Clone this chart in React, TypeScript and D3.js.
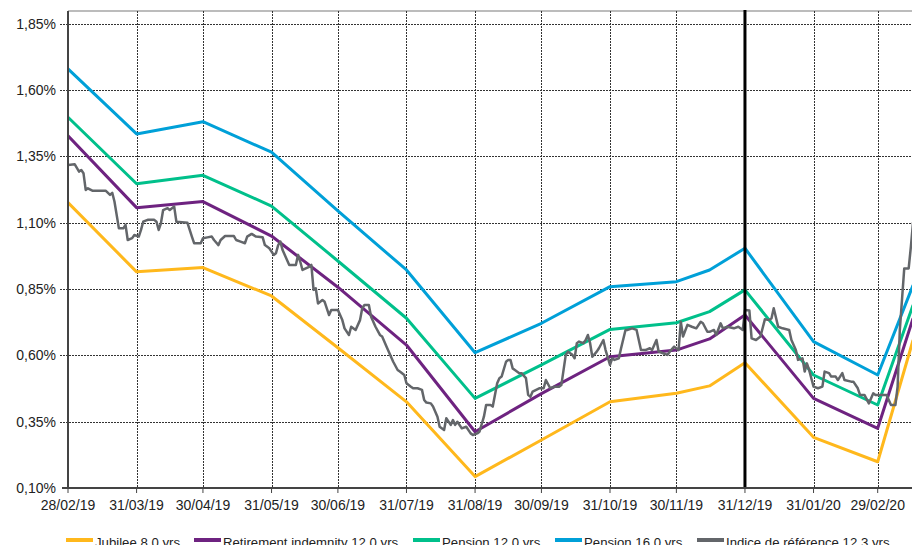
import * as d3 from 'd3';

// month-end curve points (dd/mm/yy)
const curveDates = ['28/02/19', '31/03/19', '30/04/19', '31/05/19', '30/06/19', '31/07/19', '31/08/19', '30/09/19', '31/10/19', '30/11/19', '15/12/19', '31/12/19', '31/01/20', '29/02/20', '16/03/20'];

const jubilee8 = [1.176, 0.915, 0.931, 0.824, 0.629, 0.425, 0.143, 0.281, 0.425, 0.457, 0.485, 0.572, 0.291, 0.199, 0.658];
const retirement12 = [1.428, 1.157, 1.180, 1.050, 0.857, 0.639, 0.312, 0.456, 0.595, 0.620, 0.662, 0.752, 0.438, 0.325, 0.740];
const pension12 = [1.498, 1.247, 1.279, 1.163, 0.956, 0.740, 0.438, 0.564, 0.698, 0.723, 0.765, 0.847, 0.526, 0.413, 0.790];
const pension16 = [1.680, 1.435, 1.481, 1.366, 1.145, 0.922, 0.610, 0.721, 0.859, 0.878, 0.922, 1.004, 0.652, 0.526, 0.865];

// reference index: days after 28/02/19 and value (%)
const refDays = [0, 3, 5, 6, 7, 8, 9, 11, 17, 19, 20, 21, 23, 25, 26, 27, 29, 30, 32, 33, 34, 36, 39, 40, 41, 42, 43, 45, 46, 48, 49, 54, 56, 57, 60, 61, 63, 65, 66, 68, 69, 71, 75, 76, 78, 80, 81, 83, 85, 88, 89, 91, 93, 94, 95, 96, 97, 99, 100, 103, 104, 105, 106, 109, 110, 111, 112, 113, 115, 116, 118, 119, 122, 124, 125, 127, 128, 130, 132, 133, 134, 136, 137, 139, 141, 142, 144, 146, 147, 149, 150, 152, 153, 155, 156, 158, 160, 161, 162, 164, 165, 167, 168, 170, 171, 173, 174, 175, 176, 178, 180, 182, 183, 185, 186, 188, 189, 191, 192, 194, 195, 196, 198, 199, 200, 201, 202, 204, 205, 207, 208, 209, 210, 213, 215, 216, 218, 220, 222, 223, 225, 226, 228, 229, 230, 231, 233, 234, 235, 236, 237, 239, 240, 242, 243, 245, 246, 247, 249, 250, 252, 253, 255, 257, 259, 261, 263, 264, 266, 267, 269, 271, 272, 274, 276, 277, 278, 280, 282, 284, 286, 287, 289, 290, 292, 293, 295, 296, 298, 301, 303, 305, 306, 308, 309, 311, 313, 315, 317, 318, 319, 321, 323, 326, 327, 329, 330, 332, 333, 334, 335, 337, 339, 341, 342, 344, 345, 347, 348, 350, 351, 354, 355, 357, 358, 360, 362, 364, 365, 370, 372, 374, 375, 376, 378, 380, 381, 382];
const refValues = [1.318, 1.321, 1.293, 1.299, 1.287, 1.224, 1.230, 1.221, 1.221, 1.205, 1.213, 1.180, 1.079, 1.079, 1.092, 1.035, 1.042, 1.054, 1.048, 1.073, 1.104, 1.111, 1.111, 1.104, 1.073, 1.098, 1.148, 1.155, 1.148, 1.161, 1.104, 1.100, 1.048, 1.023, 1.023, 1.042, 1.045, 1.048, 1.035, 1.016, 1.035, 1.050, 1.050, 1.035, 1.029, 1.023, 1.048, 1.058, 1.048, 1.045, 1.016, 1.004, 0.979, 0.985, 1.016, 1.029, 0.997, 0.960, 0.941, 0.941, 0.979, 0.953, 0.922, 0.934, 0.941, 0.847, 0.853, 0.796, 0.809, 0.802, 0.752, 0.771, 0.771, 0.733, 0.702, 0.677, 0.708, 0.696, 0.733, 0.778, 0.790, 0.790, 0.746, 0.708, 0.677, 0.671, 0.633, 0.595, 0.576, 0.545, 0.539, 0.526, 0.495, 0.482, 0.476, 0.476, 0.470, 0.432, 0.422, 0.419, 0.407, 0.369, 0.331, 0.319, 0.363, 0.338, 0.356, 0.338, 0.350, 0.325, 0.331, 0.306, 0.300, 0.306, 0.312, 0.369, 0.413, 0.413, 0.407, 0.495, 0.514, 0.520, 0.576, 0.583, 0.583, 0.551, 0.545, 0.533, 0.533, 0.514, 0.451, 0.444, 0.463, 0.476, 0.476, 0.507, 0.476, 0.482, 0.482, 0.488, 0.602, 0.614, 0.602, 0.589, 0.646, 0.652, 0.646, 0.658, 0.677, 0.646, 0.595, 0.614, 0.627, 0.658, 0.620, 0.564, 0.589, 0.583, 0.589, 0.627, 0.696, 0.696, 0.702, 0.696, 0.620, 0.620, 0.627, 0.620, 0.658, 0.614, 0.608, 0.602, 0.614, 0.633, 0.620, 0.727, 0.671, 0.715, 0.708, 0.702, 0.727, 0.721, 0.689, 0.689, 0.696, 0.677, 0.721, 0.702, 0.708, 0.702, 0.708, 0.696, 0.771, 0.769, 0.664, 0.658, 0.671, 0.736, 0.733, 0.740, 0.778, 0.708, 0.702, 0.696, 0.658, 0.620, 0.583, 0.589, 0.539, 0.570, 0.545, 0.482, 0.476, 0.482, 0.539, 0.533, 0.520, 0.520, 0.507, 0.533, 0.507, 0.501, 0.501, 0.476, 0.451, 0.451, 0.419, 0.457, 0.451, 0.451, 0.413, 0.413, 0.482, 0.696, 0.928, 0.928, 1.010, 1.103];

const xTickLabels = ['28/02/19', '31/03/19', '30/04/19', '31/05/19', '30/06/19', '31/07/19', '31/08/19', '30/09/19', '31/10/19', '30/11/19', '31/12/19', '31/01/20', '29/02/20'];
const yTicks = [0.10, 0.35, 0.60, 0.85, 1.10, 1.35, 1.60, 1.85];
const yearEnd = '31/12/19';

const seriesNames = ['Jubilee 8.0 yrs', 'Retirement indemnity 12.0 yrs', 'Pension 12.0 yrs', 'Pension 16.0 yrs', 'Indice de référence 12.3 yrs'];
const seriesColors = ['#FFB81C', '#6E2380', '#00C08B', '#00A0D8', '#63666A'];

const W = 912;
const H = 545;
const left = 68;
const bottom = 488;
const top = 10.6;
const font = '"Liberation Sans", Arial, sans-serif';

export default function App() {
  const parse = d3.utcParse('%d/%m/%y');
  const start = parse('28/02/19') as Date;
  const x = d3.scaleUtc()
    .domain([start, d3.utcDay.offset(start, 382)])
    .range([left, left + 382 * 2.2123]);
  const y = d3.scaleLinear().domain([0.10, 1.90]).range([bottom, top]);

  const curves = [jubilee8, retirement12, pension12, pension16].map(vals =>
    vals.map((v, i) => ({ date: parse(curveDates[i]) as Date, v }))
  );
  const ref = refDays.map((d, i) => ({ date: d3.utcDay.offset(start, d), v: refValues[i] }));
  const line = d3.line<{ date: Date; v: number }>().x(d => x(d.date)).y(d => y(d.v));

  const xTicks = xTickLabels.map(l => ({ label: l, date: parse(l) as Date }));
  const legendX = [66, 194, 413, 555, 697];

  return (
    <div>
      <style>{'body{margin:0}'}</style>
      <svg width={W} height={H} style={{ display: 'block', background: '#fff' }} fontFamily={font}>
        <defs>
          <clipPath id="plot">
            <rect x={left} y={top - 2} width={W - left} height={bottom - top + 4} />
          </clipPath>
        </defs>
        {/* top border */}
        <line x1={left} x2={W} y1={11} y2={11} stroke="#a6a6a6" strokeWidth={1.5} />
        {/* horizontal grid */}
        {yTicks.slice(1).map(t => (
          <line key={t} x1={left - 8} x2={W} y1={Math.round(y(t)) + 0.5} y2={Math.round(y(t)) + 0.5}
            stroke="#333" strokeWidth={1} strokeDasharray="2,1" />
        ))}
        {/* vertical grid */}
        {xTicks.slice(1).map(t => (
          <line key={t.label} x1={Math.round(x(t.date)) + 0.5} x2={Math.round(x(t.date)) + 0.5} y1={11} y2={bottom}
            stroke="#333" strokeWidth={1} strokeDasharray="2,1" />
        ))}
        {/* y labels */}
        {yTicks.map(t => (
          <text key={t} x={56} y={y(t) + 5} textAnchor="end" fontSize={14} fill="#222">
            {t.toFixed(2).replace('.', ',') + '%'}
          </text>
        ))}
        {/* x labels and ticks */}
        {xTicks.map(t => (
          <g key={t.label}>
            <line x1={x(t.date)} x2={x(t.date)} y1={bottom} y2={bottom + 5} stroke="#444" strokeWidth={1} />
            <text x={x(t.date)} y={510} textAnchor="middle" fontSize={14} fill="#222">{t.label}</text>
          </g>
        ))}
        <g clipPath="url(#plot)">
          {curves.map((c, i) => (
            <path key={i} d={line(c) ?? ''} fill="none" stroke={seriesColors[i]} strokeWidth={3} strokeLinejoin="round" />
          ))}
          <path d={line(ref) ?? ''} fill="none" stroke={seriesColors[4]} strokeWidth={2.5} strokeLinejoin="round" />
        </g>
        {/* year end marker */}
        <line x1={x(parse(yearEnd) as Date)} x2={x(parse(yearEnd) as Date)} y1={10} y2={bottom}
          stroke="#000" strokeWidth={3} />
        {/* axes */}
        <line x1={left} x2={left} y1={11} y2={bottom + 1} stroke="#444" strokeWidth={2} />
        <line x1={left - 6} x2={W} y1={bottom} y2={bottom} stroke="#444" strokeWidth={2} />
        {/* legend */}
        {seriesNames.map((n, i) => (
          <g key={n} transform={`translate(${legendX[i]},540)`}>
            <line x1={0} x2={27} y1={0} y2={0} stroke={seriesColors[i]} strokeWidth={4} />
            <text x={29} y={7} fontSize={13.2} fill="#222">{n}</text>
          </g>
        ))}
      </svg>
    </div>
  );
}
